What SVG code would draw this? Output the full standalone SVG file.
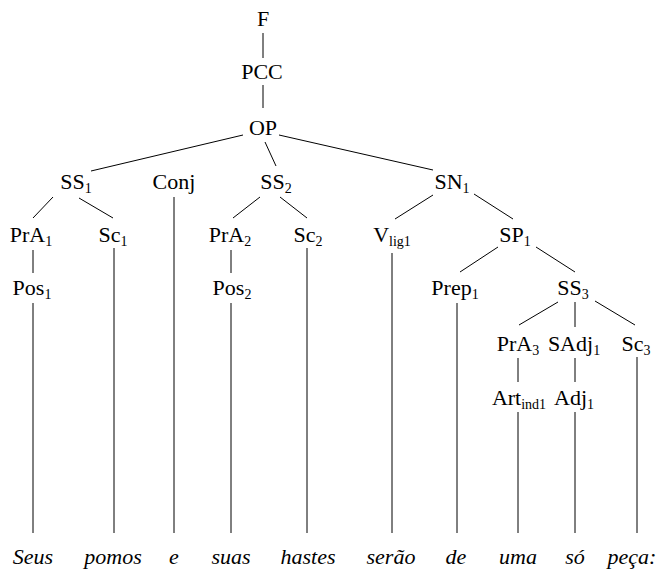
<svg xmlns="http://www.w3.org/2000/svg" width="660" height="579" viewBox="0 0 660 579">
<style>
text{fill:#000;text-anchor:middle;font-family:Tinos,"Liberation Serif","Times New Roman","DejaVu Serif",serif;font-size:22px}
.s{font-size:14px}
.w{font-style:italic}
#edges line{stroke:#000;stroke-width:1}
</style>
<rect width="660" height="579" fill="#fff"/>
<g id="edges">
<line x1="263" y1="33" x2="263" y2="58"/>
<line x1="263" y1="85" x2="263" y2="108"/>
<line x1="243" y1="135" x2="91" y2="171"/>
<line x1="265" y1="142" x2="276" y2="166"/>
<line x1="279" y1="135" x2="433" y2="170"/>
<line x1="174" y1="197" x2="174" y2="533"/>
<line x1="53" y1="197" x2="33" y2="218"/>
<line x1="79" y1="198" x2="113" y2="218"/>
<line x1="33" y1="250" x2="33" y2="273"/>
<line x1="33" y1="303" x2="33" y2="533"/>
<line x1="114" y1="248" x2="114" y2="533"/>
<line x1="260" y1="197" x2="233" y2="218"/>
<line x1="280" y1="197" x2="307" y2="218"/>
<line x1="231" y1="250" x2="231" y2="273"/>
<line x1="231" y1="303" x2="231" y2="533"/>
<line x1="307" y1="248" x2="307" y2="533"/>
<line x1="433" y1="195" x2="395" y2="219"/>
<line x1="474" y1="194" x2="513" y2="219"/>
<line x1="392" y1="253" x2="392" y2="533"/>
<line x1="498" y1="247" x2="460" y2="272"/>
<line x1="536" y1="247" x2="575" y2="272"/>
<line x1="457" y1="303" x2="457" y2="533"/>
<line x1="558" y1="302" x2="519" y2="325"/>
<line x1="575" y1="302" x2="575" y2="327"/>
<line x1="595" y1="301" x2="635" y2="325"/>
<line x1="518" y1="358" x2="518" y2="382"/>
<line x1="575" y1="358" x2="575" y2="382"/>
<line x1="637" y1="357" x2="637" y2="533"/>
<line x1="518" y1="412" x2="518" y2="533"/>
<line x1="575" y1="412" x2="575" y2="533"/>
</g>
<g id="F"><text x="263" y="26">F</text></g>
<g id="PCC"><text x="262" y="79">PCC</text></g>
<g id="OP"><text x="263" y="135">OP</text></g>
<g id="SS1"><text x="76" y="189">SS<tspan class="s" dy="4">1</tspan></text></g>
<g id="Conj"><text x="174" y="189">Conj</text></g>
<g id="SS2"><text x="276" y="189">SS<tspan class="s" dy="4">2</tspan></text></g>
<g id="SN1"><text x="452" y="189">SN<tspan class="s" dy="4">1</tspan></text></g>
<g id="PrA1"><text x="31" y="242">PrA<tspan class="s" dy="4">1</tspan></text></g>
<g id="Sc1"><text x="113" y="242">Sc<tspan class="s" dy="4">1</tspan></text></g>
<g id="PrA2"><text x="230" y="242">PrA<tspan class="s" dy="4">2</tspan></text></g>
<g id="Sc2"><text x="308" y="242">Sc<tspan class="s" dy="4">2</tspan></text></g>
<g id="Vlig1"><text x="392" y="242">V<tspan class="s" dy="4">lig1</tspan></text></g>
<g id="SP1"><text x="515" y="242">SP<tspan class="s" dy="4">1</tspan></text></g>
<g id="Pos1"><text x="32" y="295">Pos<tspan class="s" dy="4">1</tspan></text></g>
<g id="Pos2"><text x="232" y="295">Pos<tspan class="s" dy="4">2</tspan></text></g>
<g id="Prep1"><text x="455" y="295">Prep<tspan class="s" dy="4">1</tspan></text></g>
<g id="SS3"><text x="573" y="295">SS<tspan class="s" dy="4">3</tspan></text></g>
<g id="PrA3"><text x="518" y="351">PrA<tspan class="s" dy="4">3</tspan></text></g>
<g id="SAdj1"><text x="574" y="351">SAdj<tspan class="s" dy="4">1</tspan></text></g>
<g id="Sc3"><text x="636" y="351">Sc<tspan class="s" dy="4">3</tspan></text></g>
<g id="Artind1"><text x="519" y="405">Art<tspan class="s" dy="4">ind1</tspan></text></g>
<g id="Adj1"><text x="574" y="405">Adj<tspan class="s" dy="4">1</tspan></text></g>
<g id="words">
<text class="w" x="33" y="564">Seus</text>
<text class="w" x="113" y="564">pomos</text>
<text class="w" x="174" y="564">e</text>
<text class="w" x="231" y="564">suas</text>
<text class="w" x="308" y="564">hastes</text>
<text class="w" x="391" y="564">serão</text>
<text class="w" x="456" y="564">de</text>
<text class="w" x="518" y="564">uma</text>
<text class="w" x="575" y="564">só</text>
<text class="w" x="632" y="564">peça:</text>
</g>
</svg>
